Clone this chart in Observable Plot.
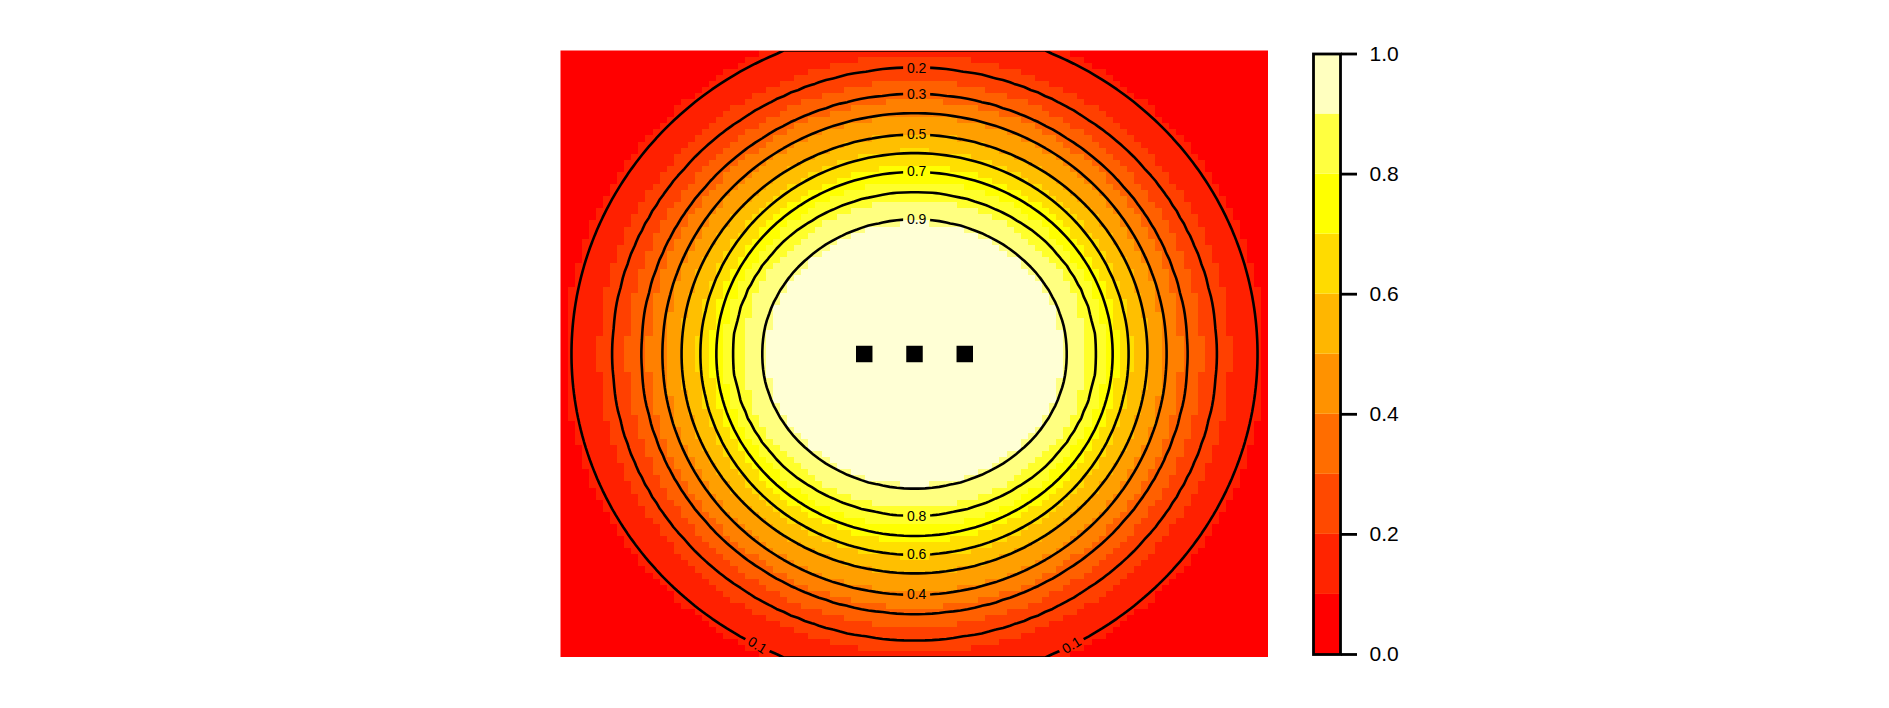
<!DOCTYPE html>
<html>
<head>
<meta charset="utf-8">
<script src="https://cdn.jsdelivr.net/npm/d3@7"></script>
<script src="https://cdn.jsdelivr.net/npm/@observablehq/plot@0.6"></script>
<style>
  html, body { margin: 0; padding: 0; background: #fff; }
  #wrap { position: relative; width: 1889px; height: 708px; background: #fff; font-family: "Liberation Sans", Arial, sans-serif; }
  #main { position: absolute; left: 560px; top: 50px; }
  #legend { position: absolute; left: 1300px; top: 0px; }
</style>
</head>
<body>
<div id="wrap"><div id="main"></div><div id="legend"></div></div>
<script>
// ---- data ----
// contour levels and the half-extent of each contour (fraction of the x / y domain),
// measured on the horizontal and vertical lines through the centre
const levels      = [0.0,   0.1,    0.2,    0.3,    0.4,   0.5,   0.6,   0.7,   0.8,   0.9,   1.0];
const halfWidth   = [0.543, 0.4845, 0.4266, 0.3856, 0.356, 0.329, 0.302, 0.280, 0.257, 0.215, 0.18];
const halfHeight  = [0.609, 0.540,  0.471,  0.428,  0.397, 0.361, 0.331, 0.300, 0.267, 0.221, 0.19];
const centre      = [0.5, 0.5];
const contourLevels = [0.1, 0.2, 0.3, 0.4, 0.5, 0.6, 0.7, 0.8, 0.9];

// observed points
const pointX = [0.429, 0.5, 0.571];
const pointY = [0.5, 0.5, 0.5];

// contour labels
const labelTop    = [0.2, 0.3, 0.5, 0.7, 0.9];
const labelBottom = [0.4, 0.6, 0.8];
const labelLow    = 0.1;           // drawn at both lower corners
const labelLowY   = 0.02;
const labelLowAngle = 32;

// image palette (12 heat colours) and legend palette (10 heat colours)
const imageColors  = ["#FF0000","#FF2000","#FF4000","#FF6000","#FF8000","#FF9F00","#FFBF00","#FFDF00","#FFFF00","#FFFF2B","#FFFF80","#FFFFD5"];
const legendColors = ["#FF0000","#FF2400","#FF4900","#FF6D00","#FF9200","#FFB600","#FFDB00","#FFFF00","#FFFF40","#FFFFBF"];
const legendTicks  = [0, 0.2, 0.4, 0.6, 0.8, 1.0];

// ---- field built from the measured contour extents ----
const N = 100;
const A = d3.scaleLinear(levels, halfWidth);
const B = d3.scaleLinear(levels, halfHeight);
function valueAt(dx, dy) {
  const r = v => Math.hypot(dx / A(v), dy / B(v));
  if (r(0) >= 1) return 0;
  if (r(1) <= 1) return 1;
  let lo = 0, hi = 1;
  for (let k = 0; k < 40; k++) {
    const m = (lo + hi) / 2;
    if (r(m) < 1) lo = m; else hi = m;
  }
  return (lo + hi) / 2;
}
const field = new Array(N * N);
for (let j = 0; j < N; j++) for (let i = 0; i < N; i++) {
  field[j * N + i] = valueAt((i + 0.5) / N - centre[0], (j + 0.5) / N - centre[1]);
}

const imageBreaks = d3.range(1, imageColors.length).map(k => k / imageColors.length);

// labels
const labels = [];
labelTop.forEach(L => labels.push({x: 0.503, y: centre[1] + B(L), text: String(L), rotate: 0}));
labelBottom.forEach(L => labels.push({x: 0.503, y: centre[1] - B(L), text: String(L), rotate: 0}));
{
  const a = A(labelLow), b = B(labelLow);
  const dy = centre[1] - labelLowY;
  const dx = a * Math.sqrt(Math.max(0, 1 - (dy / b) ** 2));
  labels.push({x: centre[0] - dx, y: labelLowY, text: String(labelLow), rotate: labelLowAngle});
  labels.push({x: centre[0] + dx, y: labelLowY, text: String(labelLow), rotate: -labelLowAngle});
}
const points = pointX.map((x, i) => ({x, y: pointY[i]}));

const W = 708, H = 607;
const main = Plot.plot({
  width: W, height: H, margin: 0,
  style: {background: "transparent", fontFamily: "'Liberation Sans', Arial, sans-serif"},
  x: {domain: [0, 1], axis: null},
  y: {domain: [0, 1], axis: null},
  color: {type: "threshold", domain: imageBreaks, range: imageColors},
  marks: [
    Plot.raster(field, {width: N, height: N, x1: 0, y1: 0, x2: 1, y2: 1, fill: Plot.identity, imageRendering: "pixelated"}),
    Plot.contour(field, {width: N, height: N, x1: 0, y1: 0, x2: 1, y2: 1, value: Plot.identity, thresholds: contourLevels, stroke: "black", strokeWidth: 2.6, fill: "none"}),
    Plot.text(labels, {x: "x", y: "y", text: "text", rotate: "rotate", fontSize: 14, fill: "black"}),
    Plot.dot(points, {x: "x", y: "y", symbol: "square", r: 9.3, fill: "black", stroke: "none"})
  ]
});
document.getElementById("main").appendChild(main);

// break the contour lines under the labels (as R does)
{
  const sx = main.scale("x"), sy = main.scale("y");
  const svg = d3.select(main);
  const defs = svg.insert("defs", ":first-child");
  const mask = defs.append("mask").attr("id", "labmask").attr("maskUnits", "userSpaceOnUse")
    .attr("x", 0).attr("y", 0).attr("width", W).attr("height", H);
  mask.append("rect").attr("x", 0).attr("y", 0).attr("width", W).attr("height", H).attr("fill", "white");
  labels.forEach(d => {
    const px = sx.apply(d.x), py = sy.apply(d.y);
    const w = 27, h = 14;
    mask.append("rect").attr("x", -w / 2).attr("y", -h / 2).attr("width", w).attr("height", h)
      .attr("fill", "black").attr("transform", `translate(${px},${py}) rotate(${d.rotate})`);
  });
  svg.selectAll('g[aria-label="contour"]').attr("mask", "url(#labmask)");
}

// ---- colour bar legend ----
const bands = legendColors.map((c, i) => ({lo: i / legendColors.length, hi: (i + 1) / legendColors.length, c}));
const legend = Plot.plot({
  width: 200, height: 708,
  marginLeft: 13, marginRight: 160, marginTop: 53.5, marginBottom: 54,
  style: {background: "transparent", fontFamily: "'Liberation Sans', Arial, sans-serif", overflow: "visible"},
  x: {domain: [0, 1], axis: null},
  y: {domain: [0, 1], axis: null},
  color: {type: "identity"},
  marks: [
    Plot.rect(bands, {x1: 0, x2: 1, y1: "lo", y2: "hi", fill: "c"}),
    Plot.frame({stroke: "black", strokeWidth: 2.8}),
    Plot.axisY({anchor: "right", ticks: legendTicks, tickFormat: d3.format(".1f"), tickSize: 16, tickPadding: 13, fontSize: 21, strokeWidth: 2.8, fill: "black", stroke: "black"})
  ]
});
document.getElementById("legend").appendChild(legend);
</script>
</body>
</html>
